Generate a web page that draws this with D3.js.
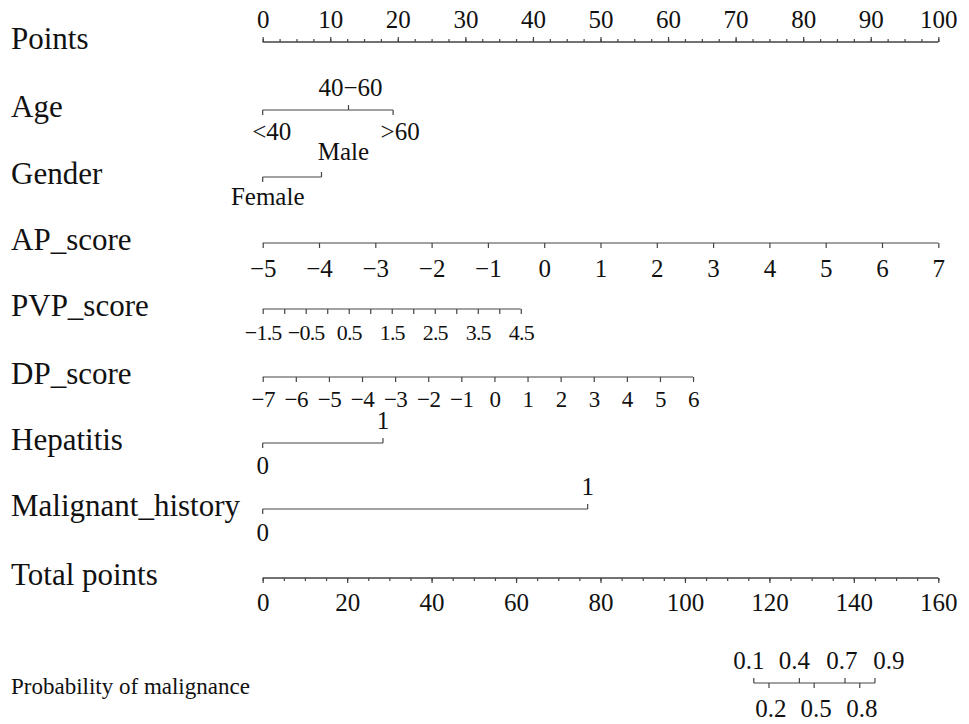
<!DOCTYPE html>
<html lang="en">
<head>
<meta charset="UTF-8">
<title>Nomogram</title>
<script src="https://d3js.org/d3.v7.min.js"></script>
<style>
    body { margin: 0; background: #fff; }
    .axis path, .axis line { stroke: #444; stroke-width: 1.2; }
</style>
</head>
<body>
<div id="chart"></div>
<script>
// ---- data ----
const pointsTicks = [0, 10, 20, 30, 40, 50, 60, 70, 80, 90, 100];
const totalTicks = [0, 20, 40, 60, 80, 100, 120, 140, 160];

const ageLevels = ["<40", "40\u221260", ">60"];
const agePoints = [0, 12.7, 19.3];

const genderLevels = ["Female", "Male"];
const genderPoints = [0, 8.7];

const apTicks = [-5, -4, -3, -2, -1, 0, 1, 2, 3, 4, 5, 6, 7];
const apMaxPoints = 100;

const pvpTicks = [-1.5, -1, -0.5, 0, 0.5, 1, 1.5, 2, 2.5, 3, 3.5, 4, 4.5];
const pvpLabels = [-1.5, -0.5, 0.5, 1.5, 2.5, 3.5, 4.5];
const pvpMaxPoints = 38.2;

const dpTicks = [-7, -6, -5, -4, -3, -2, -1, 0, 1, 2, 3, 4, 5, 6];
const dpMaxPoints = 63.7;

const hepLevels = ["0", "1"];
const hepPoints = [0, 17.8];

const malLevels = ["0", "1"];
const malPoints = [0, 48.1];

const probValues = [0.1, 0.2, 0.4, 0.5, 0.7, 0.8, 0.9];
const probTotalPoints = [116.3, 119.9, 127.1, 130.6, 137.9, 141.4, 145.0];

// ---- layout ----
const width = 969, height = 724;
const x0 = 262.7, x1 = 938.3;
const font = "'Liberation Serif', 'Times New Roman', 'DejaVu Serif', serif";
const varSize = "31px", axisSize = "25px", funSize = "23px";
const ink = "#111";
const rowY = {
    points: 42, age: 110, gender: 177, ap: 243, pvp: 309,
    dp: 377, hep: 443, mal: 509, total: 578, prob: 683
};

const svg = d3.select("#chart").append("svg")
    .attr("width", width)
    .attr("height", height)
    .style("font-family", font);

const x = d3.scaleLinear().domain([0, 100]).range([x0, x1]);
const xTotal = d3.scaleLinear().domain([0, 160]).range([x0, x1]);

// row labels
const rowLabels = [
    ["Points", "points"], ["Age", "age"], ["Gender", "gender"], ["AP_score", "ap"],
    ["PVP_score", "pvp"], ["DP_score", "dp"], ["Hepatitis", "hep"],
    ["Malignant_history", "mal"], ["Total points", "total"],
    ["Probability of malignance", "prob"]
];
svg.selectAll(".row-label")
    .data(rowLabels)
    .enter().append("text")
    .attr("class", "row-label")
    .attr("x", 11)
    .attr("y", d => rowY[d[1]] + (d[1] === "prob" ? 11 : 7))
    .style("font-family", font)
    .style("font-size", d => d[1] === "prob" ? funSize : varSize)
    .style("fill", ink)
    .text(d => d[0]);

// continuous axis helper: major ticks with labels, optional minor ticks
function contAxis(scale, y, ticks, labels, fmt, minor, orient, pad, size, spacing) {
    const top = orient === "top";
    const make = top ? d3.axisTop : d3.axisBottom;
    const g = svg.append("g")
        .attr("class", "axis")
        .attr("transform", `translate(0,${y})`);
    if (minor) {
        g.append("g").call(make(scale).tickValues(minor).tickSize(3).tickSizeOuter(0).tickFormat(""));
    }
    const lab = new Set(labels);
    g.append("g").call(make(scale).tickValues(ticks).tickSize(5).tickSizeOuter(0)
        .tickPadding(pad)
        .tickFormat(d => lab.has(d) ? fmt(d) : ""));
    g.selectAll(".domain").attr("d", `M${scale.range()[0]},0H${scale.range()[1]}`);
    g.selectAll("text")
        .style("font-family", font)
        .style("font-size", size || axisSize)
        .style("letter-spacing", spacing || "0px")
        .style("fill", ink);
    return g;
}

// Points
contAxis(x, rowY.points, pointsTicks, pointsTicks, d3.format("d"),
    d3.range(0, 100.01, 2.5), "top", 9);

// AP_score
const apScale = d3.scaleLinear().domain([apTicks[0], apTicks[apTicks.length - 1]])
    .range([x(0), x(apMaxPoints)]);
contAxis(apScale, rowY.ap, apTicks, apTicks, d3.format("d"), null, "bottom", 11);

// PVP_score
const pvpScale = d3.scaleLinear().domain([pvpTicks[0], pvpTicks[pvpTicks.length - 1]])
    .range([x(0), x(pvpMaxPoints)]);
contAxis(pvpScale, rowY.pvp, pvpTicks, pvpLabels, d3.format(".1f"), null, "bottom", 10, "22px", "-0.8px");

// DP_score
const dpScale = d3.scaleLinear().domain([dpTicks[0], dpTicks[dpTicks.length - 1]])
    .range([x(0), x(dpMaxPoints)]);
contAxis(dpScale, rowY.dp, dpTicks, dpTicks, d3.format("d"), null, "bottom", 9, "23px", "-0.5px");

// Total points
contAxis(xTotal, rowY.total, totalTicks, totalTicks, d3.format("d"),
    d3.range(0, 160.01, 5), "bottom", 10);

// discrete (and probability) axes: labels alternate above / below
function levelAxis(levels, xs, y, sides, nudges, downY, upY) {
    const g = svg.append("g").attr("class", "axis").attr("transform", `translate(0,${y})`);
    g.append("line")
        .attr("x1", d3.min(xs)).attr("x2", d3.max(xs))
        .attr("y1", 0).attr("y2", 0);
    const items = levels.map((l, i) => ({ label: l, x: xs[i], up: sides[i] === "up", dx: (nudges && nudges[i]) || 0 }));
    g.selectAll(".tk").data(items).enter().append("line")
        .attr("x1", d => d.x).attr("x2", d => d.x)
        .attr("y1", 0).attr("y2", d => d.up ? -5 : 5);
    g.selectAll(".lb").data(items).enter().append("text")
        .attr("x", d => d.x + d.dx)
        .attr("y", d => d.up ? (upY || -14) : (downY || 12))
        .attr("dy", d => d.up ? "0" : "0.71em")
        .attr("text-anchor", "middle")
        .style("font-family", font)
        .style("font-size", axisSize)
        .style("fill", ink)
        .text(d => d.label);
}

levelAxis(ageLevels, agePoints.map(x), rowY.age, ["down", "up", "down"], [9, 2, 7]);
levelAxis(genderLevels, genderPoints.map(x), rowY.gender, ["down", "up"], [5, 22], 10, -17);
levelAxis(hepLevels, hepPoints.map(x), rowY.hep, ["down", "up"], [0, 0], 13);
levelAxis(malLevels, malPoints.map(x), rowY.mal, ["down", "up"], [0, 0], 14);
levelAxis(probValues.map(d3.format(".1f")), probTotalPoints.map(xTotal), rowY.prob,
    ["up", "down", "up", "down", "up", "down", "up"], [-5, 2, -5, 2, -3, 2, 14], 16);
</script>
</body>
</html>
